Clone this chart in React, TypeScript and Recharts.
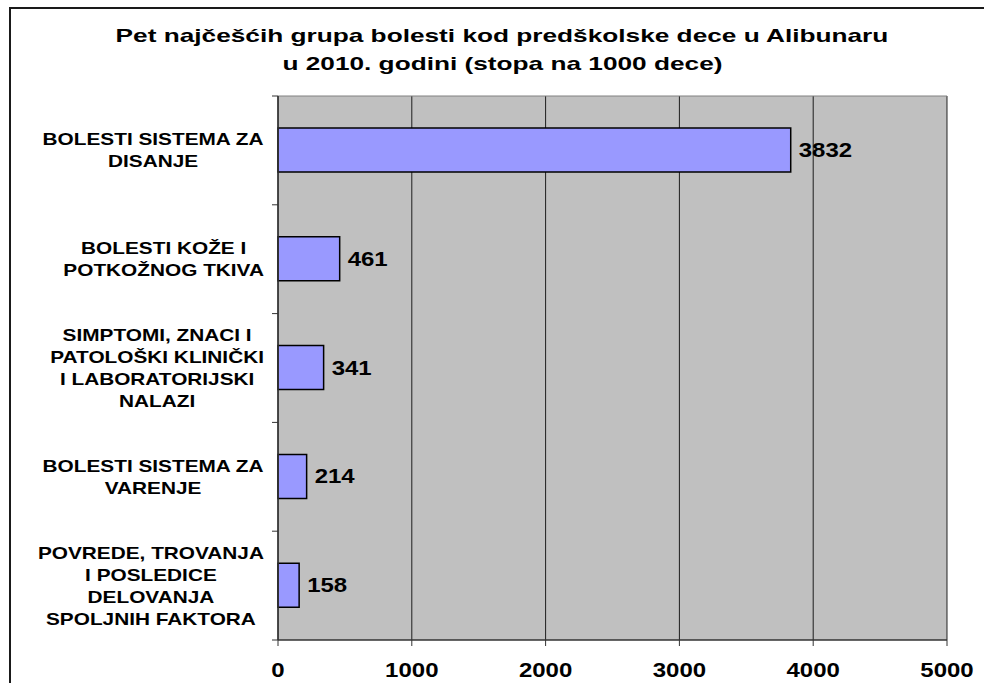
import { BarChart, Bar, XAxis, YAxis, CartesianGrid, LabelList } from "recharts";

const categories = [
  "BOLESTI SISTEMA ZA\nDISANJE",
  "BOLESTI KOŽE I\nPOTKOŽNOG TKIVA",
  "SIMPTOMI, ZNACI I\nPATOLOŠKI KLINIČKI\nI LABORATORIJSKI\nNALAZI",
  "BOLESTI SISTEMA ZA\nVARENJE",
  "POVREDE, TROVANJA\nI POSLEDICE\nDELOVANJA\nSPOLJNIH FAKTORA",
];
const rates = [3832, 461, 341, 214, 158];
const xTicks = [0, 1000, 2000, 3000, 4000, 5000];
const titleLines = [
  "Pet najčešćih grupa bolesti kod predškolske dece u Alibunaru",
  "u 2010. godini (stopa na 1000 dece)",
];

const data = categories.map((name, i) => ({ name, rate: rates[i] }));

const FONT = '"Liberation Sans", Arial, Helvetica, sans-serif';
const CAT_SIZE = 16;
const CAT_SX = 1.3;
const NUM_SIZE = 20;
const NUM_SX = 1.2;

if (typeof document !== "undefined") document.body.style.margin = "0";

let measureCtx: CanvasRenderingContext2D | null = null;
function textWidth(s: string) {
  if (!measureCtx) measureCtx = document.createElement("canvas").getContext("2d");
  if (!measureCtx) return s.length * CAT_SIZE * 0.65;
  measureCtx.font = `bold ${CAT_SIZE}px ${FONT}`;
  return measureCtx.measureText(s).width;
}

function CategoryTick(props: any) {
  const { x, y, payload, index } = props;
  const lines: string[] = String(payload.value).split("\n");
  const half = payload.offset || 54.4;
  const maxW = Math.max(...lines.map(textWidth)) * CAT_SX;
  const cx = x - 6 - maxW / 2;
  const lh = 22;
  const startY = y - ((lines.length - 1) * lh) / 2 + 6;
  const axisX = x + 8;
  return (
    <g>
      <line x1={axisX - 6} x2={axisX} y1={y - half} y2={y - half} stroke="#333" />
      {index === categories.length - 1 && (
        <line x1={axisX - 6} x2={axisX} y1={y + half} y2={y + half} stroke="#333" />
      )}
      {lines.map((l, i) => (
        <text
          key={i}
          transform={`translate(${cx},${startY + i * lh}) scale(${CAT_SX},1)`}
          textAnchor="middle"
          fontFamily={FONT}
          fontWeight="bold"
          fontSize={CAT_SIZE}
          fill="#000"
        >
          {l}
        </text>
      ))}
    </g>
  );
}

function NumberTick(props: any) {
  const { x, y, payload } = props;
  return (
    <text
      transform={`translate(${x},${y + 29}) scale(${NUM_SX},1)`}
      textAnchor="middle"
      fontFamily={FONT}
      fontWeight="bold"
      fontSize={NUM_SIZE}
      fill="#000"
    >
      {payload.value}
    </text>
  );
}

function ValueLabel(props: any) {
  const { x, y, width, height, value } = props;
  return (
    <text
      transform={`translate(${x + width + 8},${y + height / 2 + 7}) scale(${NUM_SX},1)`}
      textAnchor="start"
      fontFamily={FONT}
      fontWeight="bold"
      fontSize={NUM_SIZE}
      fill="#000"
    >
      {value}
    </text>
  );
}

export default function App() {
  return (
    <div style={{ position: "relative", width: 984, height: 683, overflow: "hidden", background: "#fff" }}>
      <div
        style={{
          position: "absolute",
          left: 9,
          top: 7,
          width: 1000,
          height: 700,
          border: "2px solid #1a1a1a",
          boxSizing: "border-box",
        }}
      />
      <div
        style={{
          position: "absolute",
          left: 20,
          top: 22,
          width: 964,
          textAlign: "center",
          fontFamily: FONT,
          fontWeight: "bold",
          fontSize: 19,
          lineHeight: "28px",
          color: "#000",
        }}
      >
        {titleLines.map((t, i) => (
          <div key={i}>
            <span style={{ display: "inline-block", transform: "scaleX(1.38)", whiteSpace: "nowrap" }}>{t}</span>
          </div>
        ))}
      </div>
      <div style={{ position: "absolute", left: 0, top: 0 }}>
        <BarChart
          width={984}
          height={683}
          data={data}
          layout="vertical"
          margin={{ top: 96, right: 37, bottom: 0, left: 0 }}
          barCategoryGap={0}
        >
          <CartesianGrid fill="#C0C0C0" horizontal={false} stroke="#000" strokeOpacity={0.85} />
          <CartesianGrid
            vertical={false}
            horizontalCoordinatesGenerator={({ offset }: any) => [offset.top]}
            stroke="#808080"
          />
          <XAxis
            type="number"
            domain={[0, 5000]}
            ticks={xTicks}
            interval={0}
            height={43}
            axisLine={{ stroke: "#333", strokeWidth: 1.5 }}
            tickLine={{ stroke: "#333" }}
            tickSize={6}
            tick={<NumberTick />}
          />
          <YAxis
            type="category"
            dataKey="name"
            width={278}
            interval={0}
            axisLine={{ stroke: "#333", strokeWidth: 1.5 }}
            tickLine={false}
            tick={<CategoryTick />}
          />
          <Bar dataKey="rate" fill="#9999FF" stroke="#000" strokeWidth={1.5} barSize={44} isAnimationActive={false}>
            <LabelList dataKey="rate" content={<ValueLabel />} />
          </Bar>
        </BarChart>
      </div>
    </div>
  );
}
